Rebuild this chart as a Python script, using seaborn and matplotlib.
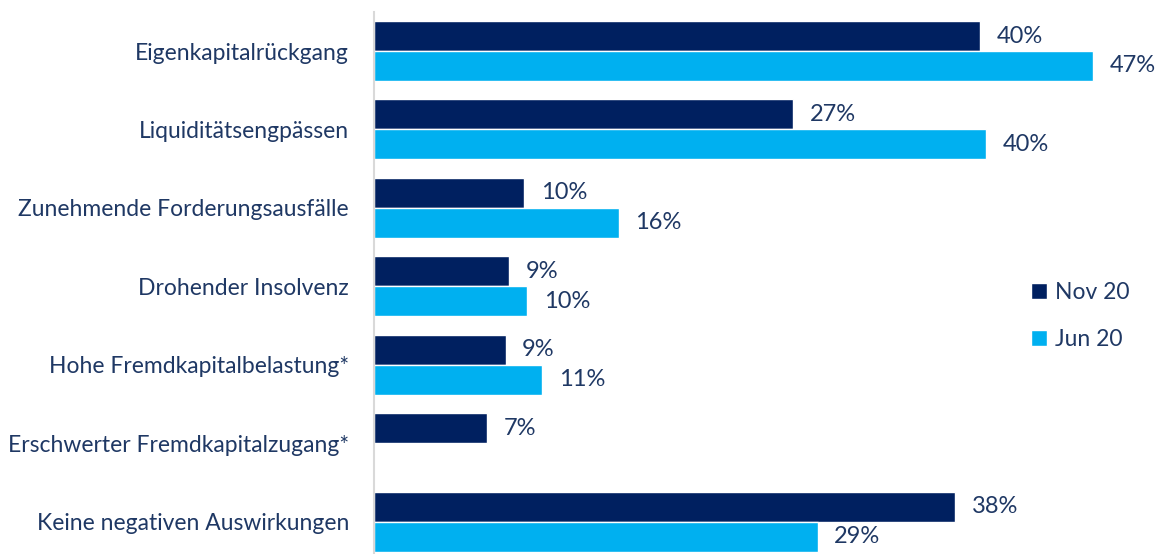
import numpy as np
import pandas as pd
import matplotlib
matplotlib.use("Agg")
import matplotlib.pyplot as plt
import seaborn as sns

categories = ["Eigenkapitalrückgang", "Liquiditätsengpässen", "Zunehmende Forderungsausfälle",
              "Drohender Insolvenz", "Hohe Fremdkapitalbelastung*", "Erschwerter Fremdkapitalzugang*",
              "Keine negativen Auswirkungen"]
series_names = ["Nov 20", "Jun 20"]
nov20 = [39.6, 27.4, 9.8, 8.8, 8.6, 7.4, 38.0]
jun20 = [47.0, 40.0, 16.0, 10.0, 11.0, np.nan, 29.0]

colors = ["#002060", "#00B0F0"]
text_color = "#1F3864"

df = pd.DataFrame({
    "Kategorie": categories * 2,
    "Serie": [series_names[0]] * len(categories) + [series_names[1]] * len(categories),
    "Wert": nov20 + jun20,
})

sns.set_style("white")
plt.rcParams["font.family"] = ["Lato", "DejaVu Sans"]

fig = plt.figure(figsize=(11.57, 5.54), dpi=100)
ax = fig.add_axes([374 / 1157, 0, 1 - 374 / 1157, 1 - 12 / 554])

sns.barplot(data=df, y="Kategorie", x="Wert", hue="Serie", orient="h",
            palette=colors, width=0.764, saturation=1, ax=ax, order=categories,
            hue_order=series_names, errorbar=None)

for c in ax.containers:
    labels = [f"{v:.0f}%" if np.isfinite(v) else "" for v in c.datavalues]
    ax.bar_label(c, labels=labels, padding=12, fontsize=17, color=text_color)

ax.set_xlim(0, 783 / 15.3)
ax.set_ylim(6.41, -0.497)
ax.set_xlabel("")
ax.set_ylabel("")
ax.set_xticks([])
ax.tick_params(axis="y", length=0, pad=18, labelsize=16.5, labelcolor=text_color)
for s in ["top", "right", "bottom"]:
    ax.spines[s].set_visible(False)
ax.spines["left"].set_color("#D9D9D9")
ax.spines["left"].set_linewidth(1.5)

handles, labels = ax.get_legend_handles_labels()
ax.legend(handles, labels, loc="center left", bbox_to_anchor=(1010 / 1157, 1 - 316 / 554),
          bbox_transform=fig.transFigure, frameon=False, fontsize=16.5,
          handlelength=0.7, handleheight=0.7, handletextpad=0.35, labelspacing=1.15,
          labelcolor=text_color)

fig.savefig("out.png", dpi=100)
